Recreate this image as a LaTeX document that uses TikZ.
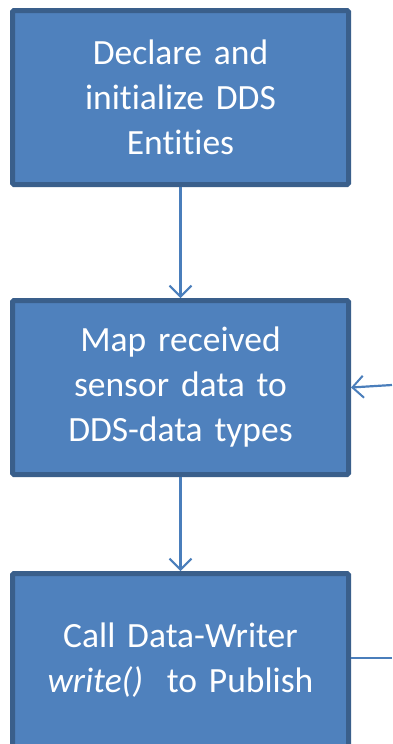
\documentclass[tikz,border=0pt]{standalone}
\usepackage{fontspec}
\setmainfont{Carlito}[Ligatures=NoCommon, WordSpace=0.65]
\usepackage{tikz}
\usetikzlibrary{positioning}
\usetikzlibrary{shapes,arrows,arrows.meta}
\definecolor{boxfill}{HTML}{4F81BD}
\definecolor{boxline}{HTML}{3A5F8B}
\definecolor{arrowcol}{HTML}{4A7EBB}
\tikzstyle{block} = [rectangle, draw=boxline, fill=boxfill, line width=5pt,
text width=320pt, align=center, text=white, rounded corners=1.5pt,
minimum width=336pt, minimum height=174pt,
font=\fontsize{35.5}{45}\selectfont]
\tikzstyle{line} = [draw=arrowcol, line width=2.2pt, -{Straight Barb[length=11pt,width=22pt,line width=2pt]}]

\begin{document}
\begin{tikzpicture}[x=1pt, y=1pt]
  \useasboundingbox (0,0) rectangle (392,-744);
    % Place nodes
    \node [block] (decl) at (180.5,-97.5) {Declare and\\ initialize DDS\\ Entities};
    \node [block, below=111pt of decl] (map) {Map received\\ sensor data to\\ DDS-data types};
    \node [block, below=94pt of map] (call) {Call Data-Writer\\ \textit{write()}\ \ to Publish};
    \coordinate (inp) at (392,-385);
    \coordinate (outp) at (392,-658);
    % edges
    \path [line] (decl) -- (map);
    \path [line] (map) -- (call);
    \path [line] (inp) -- (map.east);
    \draw [draw=arrowcol, line width=2.2pt] (call.east |- outp) -- (outp);
\end{tikzpicture}
\end{document}
